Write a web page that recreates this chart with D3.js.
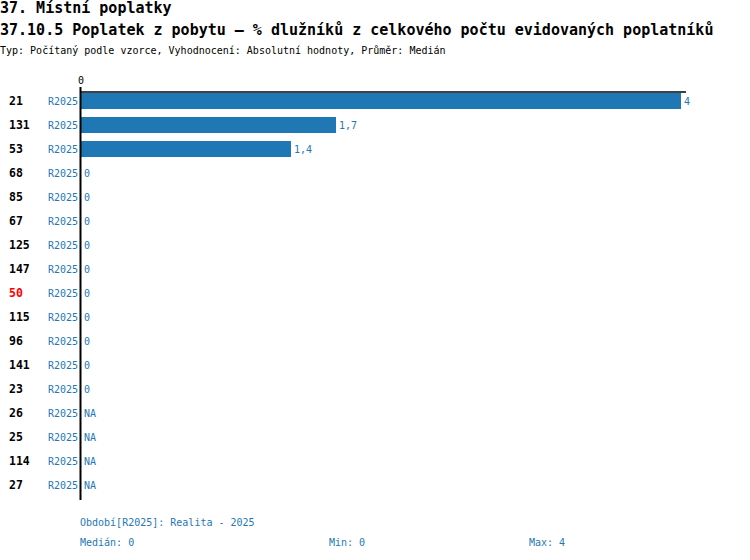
<!DOCTYPE html>
<html>
<head>
<meta charset="utf-8">
<script src="https://cdn.jsdelivr.net/npm/d3@7"></script>
<style>
  body { margin: 0; background: #fff; }
  svg text { font-family: "DejaVu Sans Mono", monospace; }
</style>
</head>
<body>
<script>
// chart data
var categories = ["21", "131", "53", "68", "85", "67", "125", "147", "50", "115", "96", "141", "23", "26", "25", "114", "27"];
var values = [4, 1.7, 1.4, 0, 0, 0, 0, 0, 0, 0, 0, 0, 0, null, null, null, null];
var period = "R2025";
var highlight = "50";
var titleLines = ["37. Místní poplatky", "37.10.5 Poplatek z pobytu – % dlužníků z celkového počtu evidovaných poplatníků"];
var subtitle = "Typ: Počítaný podle vzorce, Vyhodnocení: Absolutní hodnoty, Průměr: Medián";
var footer = ["Období[R2025]: Realita - 2025", "Medián: 0", "Min: 0", "Max: 4"];

var blue = "#1f77b4";
var svg = d3.select("body").append("svg").attr("width", 750).attr("height", 560);

svg.append("text").attr("x", 0).attr("y", 13).style("font-size", "15px").style("font-weight", "bold").text(titleLines[0]);
svg.append("text").attr("x", 0).attr("y", 35).style("font-size", "15px").style("font-weight", "bold").text(titleLines[1]);
svg.append("text").attr("x", 0).attr("y", 54).style("font-size", "10px").text(subtitle);

var x = d3.scaleLinear().domain([0, 4]).range([81, 681]);
var y = d3.scaleBand().domain(categories).range([89, 497]).paddingInner(0.333).paddingOuter(0.167);

var fmt = function(v) { return v === null ? "NA" : String(v).replace(".", ","); };

// bars
svg.selectAll("rect.bar")
    .data(values)
    .enter().append("rect")
    .attr("class", "bar")
    .attr("x", x(0))
    .attr("y", function(d, i) { return y(categories[i]); })
    .attr("width", function(d) { return d ? x(d) - x(0) : 0; })
    .attr("height", y.bandwidth())
    .style("fill", blue);

// value labels
svg.selectAll("text.val")
    .data(values)
    .enter().append("text")
    .attr("class", "val")
    .attr("x", function(d) { return (d ? x(d) : x(0)) + 3; })
    .attr("y", function(d, i) { return y(categories[i]) + y.bandwidth() / 2 + 4; })
    .style("font-size", "10px")
    .style("fill", blue)
    .text(fmt);

// period labels
svg.selectAll("text.per")
    .data(categories)
    .enter().append("text")
    .attr("class", "per")
    .attr("x", 78)
    .attr("y", function(d) { return y(d) + y.bandwidth() / 2 + 4; })
    .attr("text-anchor", "end")
    .style("font-size", "10px")
    .style("fill", blue)
    .text(period);

// category labels
svg.selectAll("text.cat")
    .data(categories)
    .enter().append("text")
    .attr("class", "cat")
    .attr("x", 9)
    .attr("y", function(d) { return y(d) + y.bandwidth() / 2 + 4; })
    .style("font-size", "11.5px")
    .style("font-weight", "bold")
    .style("fill", function(d) { return d === highlight ? "#ff0000" : "#000"; })
    .text(function(d) { return d; });

// axes lines
svg.append("line").attr("x1", x(0) - 1).attr("x2", 686).attr("y1", 92).attr("y2", 92)
    .style("stroke", "#000").style("stroke-width", 1.5);
svg.append("line").attr("x1", x(0) - 0.5).attr("x2", x(0) - 0.5).attr("y1", 87).attr("y2", 500)
    .style("stroke", "#000").style("stroke-width", 2);
svg.append("text").attr("x", x(0)).attr("y", 84).attr("text-anchor", "middle")
    .style("font-size", "10px").text("0");

// footer
svg.append("text").attr("x", 80).attr("y", 526).style("font-size", "10px").style("fill", blue).text(footer[0]);
svg.append("text").attr("x", 80).attr("y", 546).style("font-size", "10px").style("fill", blue).text(footer[1]);
svg.append("text").attr("x", 329).attr("y", 546).style("font-size", "10px").style("fill", blue).text(footer[2]);
svg.append("text").attr("x", 529).attr("y", 546).style("font-size", "10px").style("fill", blue).text(footer[3]);
</script>
</body>
</html>
